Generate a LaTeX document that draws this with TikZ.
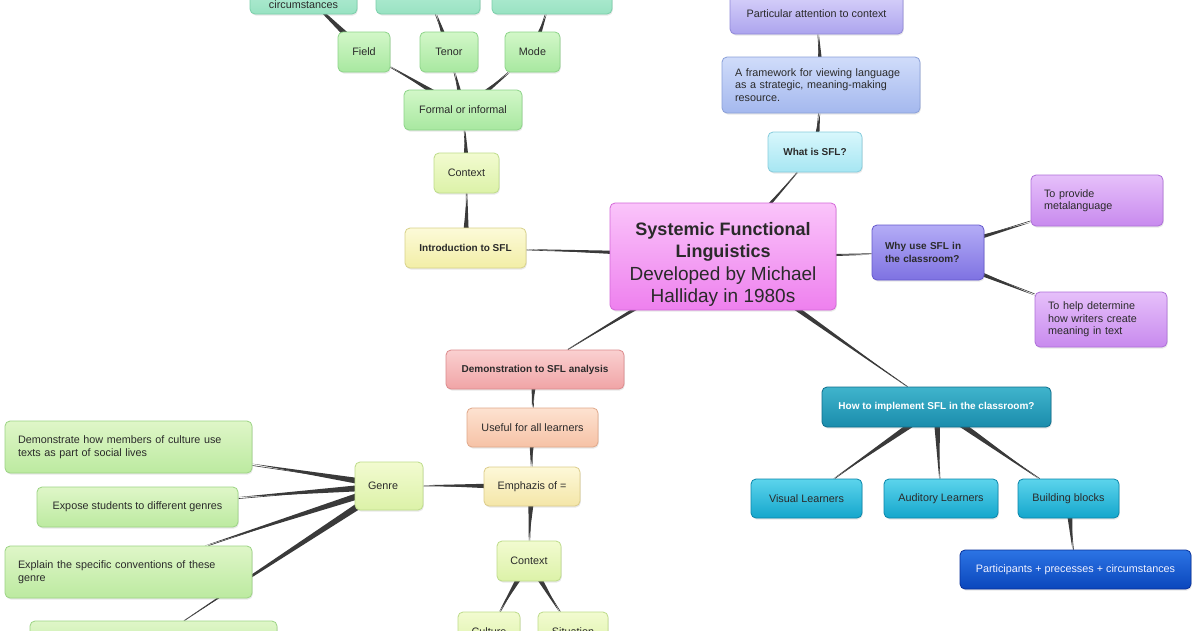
\documentclass[tikz,border=0pt]{standalone}
\usepackage{fontspec}
\setmainfont{Liberation Sans}
\usetikzlibrary{positioning, calc, shadows}
\definecolor{texto}{HTML}{2A2A2A}
\definecolor{gristallo}{HTML}{3A3A3A}
\definecolor{mentaA}{HTML}{C4F2DE}\definecolor{mentaB}{HTML}{98E2C2}\definecolor{mentaC}{HTML}{7ACFAA}
\definecolor{verdeA}{HTML}{D2F7C8}\definecolor{verdeB}{HTML}{A8E8A0}\definecolor{verdeC}{HTML}{8CD488}
\definecolor{limaA}{HTML}{F2FBD0}\definecolor{limaB}{HTML}{DCF2A8}\definecolor{limaC}{HTML}{BEDC8A}
\definecolor{amariA}{HTML}{FCFAD8}\definecolor{amariB}{HTML}{F2EEA6}\definecolor{amariC}{HTML}{D8D28A}
\definecolor{rosaA}{HTML}{FAC4FA}\definecolor{rosaB}{HTML}{EE80EE}\definecolor{rosaC}{HTML}{D468D8}
\definecolor{lilaA}{HTML}{D8D2FA}\definecolor{lilaB}{HTML}{ACA4EE}\definecolor{lilaC}{HTML}{9088D8}
\definecolor{azulcA}{HTML}{D0DCFA}\definecolor{azulcB}{HTML}{A4B8EE}\definecolor{azulcC}{HTML}{8AA0D8}
\definecolor{cianA}{HTML}{D8F7FC}\definecolor{cianB}{HTML}{A6E6F2}\definecolor{cianC}{HTML}{86CCDC}
\definecolor{violA}{HTML}{B4ACF6}\definecolor{violB}{HTML}{7E72E2}\definecolor{violC}{HTML}{6458CC}
\definecolor{moradoA}{HTML}{E6C0FA}\definecolor{moradoB}{HTML}{C88AEE}\definecolor{moradoC}{HTML}{AE70D8}
\definecolor{tealA}{HTML}{40B4CC}\definecolor{tealB}{HTML}{1A8CAC}\definecolor{tealC}{HTML}{0E6E8C}
\definecolor{celesteA}{HTML}{5CD4EC}\definecolor{celesteB}{HTML}{14A6CC}\definecolor{celesteC}{HTML}{0A86AA}
\definecolor{marA}{HTML}{2C74E4}\definecolor{marB}{HTML}{0A46BC}\definecolor{marC}{HTML}{08309A}
\definecolor{salmonA}{HTML}{FAD0D0}\definecolor{salmonB}{HTML}{F0A4A6}\definecolor{salmonC}{HTML}{DC8A8C}
\definecolor{duraznoA}{HTML}{FDE2D0}\definecolor{duraznoB}{HTML}{F6C2A6}\definecolor{duraznoC}{HTML}{E0A88A}
\definecolor{cremaA}{HTML}{FDF8D8}\definecolor{cremaB}{HTML}{F4E6A8}\definecolor{cremaC}{HTML}{DCCC8A}
\definecolor{hojaA}{HTML}{DFF6C8}\definecolor{hojaB}{HTML}{BCEAA0}\definecolor{hojaC}{HTML}{9CD484}
\pgfdeclarelayer{fondo}
\pgfsetlayers{fondo,main}
\tikzset{
  caja/.style={rectangle, rounded corners=5pt, minimum height=40, inner sep=4pt, line width=0.8pt,
               text=texto, font=\fontsize{10.8}{12.5}\selectfont, align=center,
               drop shadow={shadow xshift=0.8pt, shadow yshift=-1.5pt, opacity=0.18}},
  negrita/.style={caja, font=\fontsize{10}{12.5}\selectfont\bfseries},
  izq/.style={align=left, text width=#1},
  tono/.style={top color=#1A, bottom color=#1B, draw=#1C},
  menta/.style={caja, tono=menta}, verde/.style={caja, tono=verde}, lima/.style={caja, tono=lima},
  amari/.style={negrita, tono=amari}, rosa/.style={caja, tono=rosa}, lila/.style={caja, tono=lila},
  azulc/.style={caja, tono=azulc}, cian/.style={negrita, tono=cian}, viol/.style={negrita, tono=viol},
  morado/.style={caja, tono=morado}, teal/.style={negrita, tono=teal, text=white},
  celeste/.style={caja, tono=celeste}, mar/.style={caja, tono=mar, text=blue!5},
  salmon/.style={negrita, tono=salmon}, durazno/.style={caja, tono=durazno},
  crema/.style={caja, tono=crema}, hoja/.style={caja, tono=hoja}
}
% rama ahusada: gruesa en el padre, fina en el hijo
\newcommand{\tallo}[2]{%
  \fill[gristallo] ($(#1)!3.8pt!90:(#2)$) -- ($(#1)!3.8pt!-90:(#2)$) -- (#2) -- cycle;
  \draw[gristallo, line width=0.6pt] (#1) -- (#2);}

\begin{document}
\begin{tikzpicture}[x=1pt, y=-1pt]
  \useasboundingbox (0,0) rectangle (1200,630);
  \begin{pgfonlayer}{fondo}
    \fill[white] (0,0) rectangle (1200,630);
  \end{pgfonlayer}

  % centro
  \node (sfl) [rosa, minimum width=226, minimum height=107, text height=96pt, inner ysep=2pt, font=\fontsize{19}{22.5}\selectfont] at (723,256.5)
    {\textbf{\fontsize{18}{22.5}\selectfont Systemic Functional}\\\textbf{\fontsize{18}{22.5}\selectfont Linguistics}\\Developed by Michael\\Halliday in 1980s};

  % introduccion
  \node (intro) [amari, minimum width=121] at (465.5,248) {Introduction to SFL};
  \node (ctx) [lima, minimum width=65] at (466.5,173) {Context};
  \node (formal) [verde, minimum width=118] at (463,110) {Formal or informal};
  \node (field) [verde, minimum width=52] at (364,52) {Field};
  \node (tenor) [verde, minimum width=58] at (449,52) {Tenor};
  \node (mode) [verde, minimum width=55] at (532.5,52) {Mode};
  \node (circ) [menta, minimum width=107, anchor=base, text height=30pt, text depth=1pt, inner ysep=5pt] at (303.5,8) {circumstances};
  \node (arriba2) [menta, minimum width=104] at (428,-6) {};
  \node (arriba3) [menta, minimum width=120] at (552,-6) {};

  % que es
  \node (que) [cian, minimum width=94] at (815,152) {What is SFL?};
  \node (marco) [azulc, minimum width=198, minimum height=56, izq=172] at (821,85)
    {A framework for viewing language\\as a strategic, meaning-making\\resource.};
  \node (atencion) [lila, minimum width=173] at (816.5,14) {Particular attention to context};

  % por que
  \node (porque) [viol, minimum width=112, minimum height=55, izq=86] at (928,252.5) {Why use SFL in\\the classroom?};
  \node (meta) [morado, minimum width=132, minimum height=51, izq=106] at (1097,200.5) {To provide\\metalanguage};
  \node (ayuda) [morado, minimum width=132, minimum height=55, izq=106] at (1101,319.5)
    {To help determine\\how writers create\\meaning in text};

  % como
  \node (como) [teal, minimum width=229] at (936.5,407) {How to implement SFL in the classroom?};
  \node (visual) [celeste, minimum width=111, minimum height=39] at (806.5,498.5) {Visual Learners};
  \node (auditivo) [celeste, minimum width=114, minimum height=39] at (941,498.5) {Auditory Learners};
  \node (bloques) [celeste, minimum width=101, minimum height=39] at (1068.5,498.5) {Building blocks};
  \node (partic) [mar, minimum width=231, minimum height=39] at (1075.5,569.5) {Participants + precesses + circumstances};

  % demostracion
  \node (demo) [salmon, minimum width=178, minimum height=39] at (535,369.5) {Demonstration to SFL analysis};
  \node (util) [durazno, minimum width=131, minimum height=39] at (532.5,427.5) {Useful for all learners};
  \node (enfasis) [crema, minimum width=96, minimum height=39] at (532,486.5) {Emphazis of =};
  \node (genero) [lima, minimum width=68, minimum height=48, izq=42] at (389,486) {Genre\\[8pt]};
  \node (ctx2) [lima, minimum width=64] at (529,561) {Context};
  \node (cultura) [lima, minimum width=62] at (489,632) {Culture};
  \node (situacion) [lima, minimum width=70] at (573,632) {Situation};
  \node (demuestra) [hoja, minimum width=247, minimum height=52, izq=221] at (128.5,447)
    {Demonstrate how members of culture use\\texts as part of social lives};
  \node (expone) [hoja, minimum width=201] at (137.5,507) {Expose students to different genres};
  \node (explica) [hoja, minimum width=247, minimum height=52, izq=221] at (128.5,572)
    {Explain the specific conventions of these\\genre};
  \node (ultimo) [hoja, minimum width=247] at (153.5,641) {};

  \begin{pgfonlayer}{fondo}
    \tallo{sfl}{intro} \tallo{intro}{ctx} \tallo{ctx}{formal}
    \tallo{formal}{field} \tallo{formal}{tenor} \tallo{formal}{mode}
    \tallo{field}{circ.center} \tallo{tenor}{arriba2} \tallo{mode}{arriba3}
    \tallo{sfl}{que} \tallo{que}{marco} \tallo{marco}{atencion}
    \tallo{sfl}{porque} \tallo{porque}{meta} \tallo{porque}{ayuda}
    \tallo{sfl}{como} \tallo{como}{visual} \tallo{como}{auditivo} \tallo{como}{bloques}
    \tallo{bloques}{partic}
    \tallo{sfl}{demo} \tallo{demo}{util} \tallo{util}{enfasis}
    \tallo{enfasis}{genero} \tallo{enfasis}{ctx2}
    \tallo{ctx2}{cultura} \tallo{ctx2}{situacion}
    \tallo{genero}{demuestra} \tallo{genero}{expone} \tallo{genero}{explica} \tallo{genero}{ultimo}
  \end{pgfonlayer}
\end{tikzpicture}
\end{document}
